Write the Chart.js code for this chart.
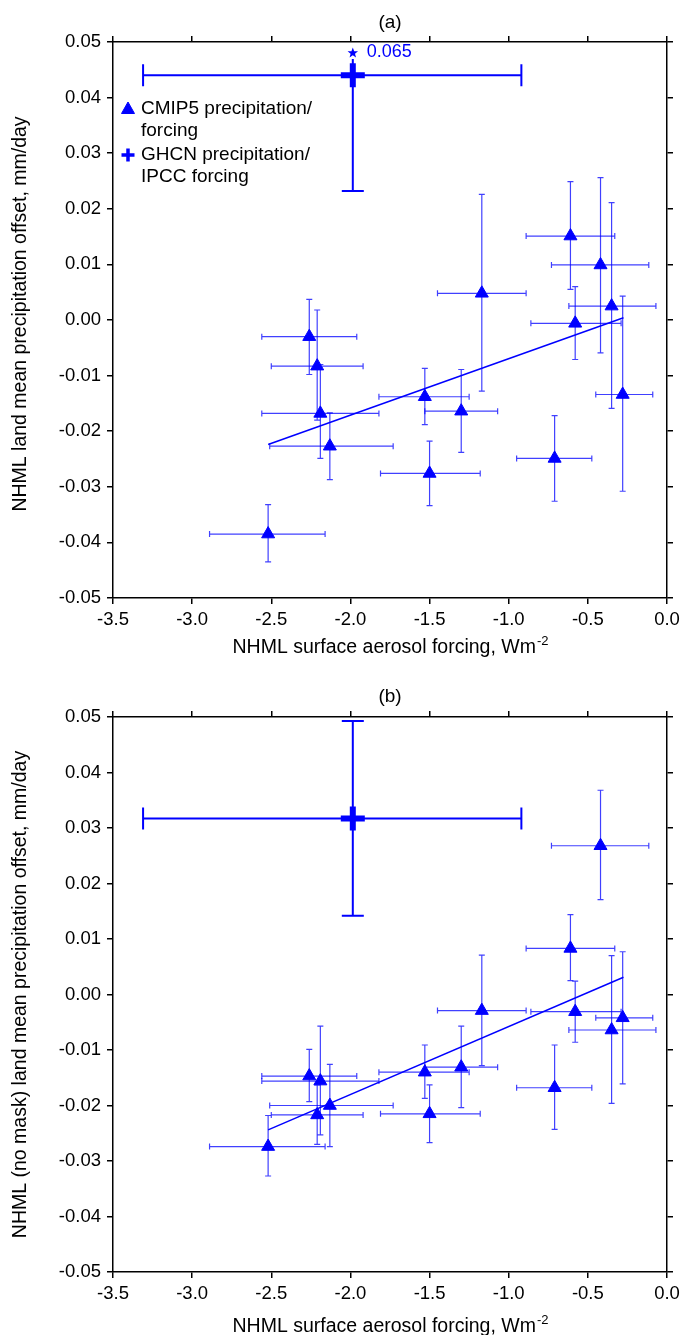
<!DOCTYPE html>
<html>
<head>
<meta charset="utf-8">
<script src="https://cdn.jsdelivr.net/npm/chart.js@4.4.1/dist/chart.umd.min.js"></script>
<style>
  html, body { margin: 0; padding: 0; background: #fff; }
  canvas { display: block; }
</style>
</head>
<body>
<canvas id="chartA" width="685" height="667"></canvas>
<canvas id="chartB" width="685" height="668"></canvas>
<script>
// CMIP5 models: NHML surface aerosol forcing (Wm-2) and its range
const forcing   = [-2.52, -2.26, -2.21, -2.19, -2.13, -1.53, -1.50, -1.30, -1.17, -0.71, -0.61, -0.58, -0.42, -0.35, -0.28];
const forcingLo = [-2.89, -2.56, -2.50, -2.56, -2.51, -1.82, -1.81, -1.53, -1.45, -0.95, -0.89, -0.86, -0.73, -0.62, -0.45];
const forcingHi = [-2.16, -1.96, -1.92, -1.82, -1.73, -1.25, -1.18, -1.07, -0.89, -0.475, -0.33, -0.29, -0.115, -0.07, -0.09];

// (a) NHML land mean precipitation offset, mm/day
const precipA   = [-0.0385, -0.0030, -0.0083, -0.0168, -0.0227, -0.0138, -0.0276, -0.0164, 0.0048, -0.0249, 0.0151, -0.0006, 0.0099, 0.0025, -0.0134];
const precipALo = [-0.0435, -0.0098, -0.0180, -0.0249, -0.0287, -0.0188, -0.0334, -0.0238, -0.0128, -0.0326, 0.0055, -0.0071, -0.0059, -0.0159, -0.0308];
const precipAHi = [-0.0332, 0.0037, 0.0018, -0.0080, -0.0167, -0.0087, -0.0218, -0.0089, 0.0226, -0.0172, 0.0249, 0.0060, 0.0256, 0.0211, 0.0043];

// (b) NHML (no mask) land mean precipitation offset, mm/day
const precipB   = [-0.0274, -0.0147, -0.0217, -0.0156, -0.0200, -0.0140, -0.0215, -0.0131, -0.0029, -0.0168, 0.0083, -0.0031, 0.0268, -0.0064, -0.0042];
const precipBLo = [-0.0327, -0.0193, -0.0270, -0.0253, -0.0274, -0.0187, -0.0267, -0.0204, -0.0128, -0.0243, 0.0025, -0.0086, 0.0171, -0.0196, -0.0161];
const precipBHi = [-0.0218, -0.0099, -0.0163, -0.0057, -0.0126, -0.0091, -0.0163, -0.0057, 0.0071, -0.0091, 0.0144, 0.0024, 0.0368, 0.0070, 0.0077];

// GHCN precipitation / IPCC forcing
const ghcnForcing = -1.985;
const ghcnForcingRange = [-3.31, -0.92];
const ghcnPrecipA = 0.044;
const ghcnPrecipARange = [0.0232, 0.065];
const ghcnPrecipB = 0.0317;
const ghcnPrecipBRange = [0.0142, 0.0493];

// regression lines, end points
const fitX = [-2.52, -0.275];
const fitA = [-0.0224, 0.0004];
const fitB = [-0.0244, 0.0031];

const legendLabels = [['CMIP5 precipitation/', 'forcing'], ['GHCN precipitation/', 'IPCC forcing']];

const blue = '#0000ff';
const fontFamily = '"Liberation Sans", Arial, Helvetica, sans-serif';
Chart.defaults.font.family = fontFamily;
Chart.defaults.color = '#000';

function fmt(v, d) {
    return (Math.abs(v) < 1e-9 ? 0 : v).toFixed(d);
}

function drawStar(ctx, x, y, r) {
    ctx.beginPath();
    for (let i = 0; i < 10; i++) {
        const rr = i % 2 === 0 ? r : r * 0.42;
        const a = -Math.PI / 2 + i * Math.PI / 5;
        ctx.lineTo(x + Math.cos(a) * rr, y + Math.sin(a) * rr);
    }
    ctx.closePath();
    ctx.fill();
}

// error bars drawn from each dataset's lo/hi arrays
const errorBars = {
    id: 'errorBars',
    beforeDatasetsDraw(chart) {
        const ctx = chart.ctx;
        const xs = chart.scales.x, ys = chart.scales.y;
        const area = chart.chartArea;
        chart.data.datasets.forEach(ds => {
            if (!ds.xLo) return;
            ctx.save();
            ctx.strokeStyle = ds.barColor;
            ctx.fillStyle = blue;
            ctx.lineWidth = ds.barWidth;
            ds.data.forEach((p, i) => {
                const px = xs.getPixelForValue(p.x);
                const py = ys.getPixelForValue(p.y);
                const x0 = xs.getPixelForValue(ds.xLo[i]);
                const x1 = xs.getPixelForValue(ds.xHi[i]);
                let y0 = ys.getPixelForValue(ds.yLo[i]);
                let y1 = ys.getPixelForValue(ds.yHi[i]);
                const over = ds.yHi[i] > ys.max;
                if (over) y1 = area.top + 17;
                ctx.beginPath();
                ctx.moveTo(x0, py); ctx.lineTo(x1, py);
                ctx.moveTo(px, y0); ctx.lineTo(px, y1);
                // caps
                ctx.moveTo(x0, py - ds.cap); ctx.lineTo(x0, py + ds.cap);
                ctx.moveTo(x1, py - ds.cap); ctx.lineTo(x1, py + ds.cap);
                ctx.moveTo(px - ds.cap, y0); ctx.lineTo(px + ds.cap, y0);
                if (!over) { ctx.moveTo(px - ds.cap, y1); ctx.lineTo(px + ds.cap, y1); }
                ctx.stroke();
                if (over) {
                    drawStar(ctx, px, area.top + 11, 5.5);
                    ctx.font = '18px ' + fontFamily;
                    ctx.textAlign = 'left';
                    ctx.textBaseline = 'alphabetic';
                    ctx.fillText(fmt(ds.yHi[i], 3), px + 14, area.top + 15);
                }
            });
            ctx.restore();
        });
    }
};

// panel label, axis titles and legend
const panelText = {
    id: 'panelText',
    afterDraw(chart, args, opts) {
        const ctx = chart.ctx;
        const area = chart.chartArea;
        const cx = (area.left + area.right) / 2;
        ctx.save();
        ctx.fillStyle = '#000';
        ctx.font = '19px ' + fontFamily;
        ctx.textAlign = 'center';
        ctx.textBaseline = 'middle';
        ctx.fillText(opts.label, cx, opts.labelY);

        // x title with superscript
        const main = 'NHML surface aerosol forcing, Wm';
        const sup = '-2';
        ctx.font = '19.5px ' + fontFamily;
        const w1 = ctx.measureText(main).width;
        ctx.font = '13px ' + fontFamily;
        const w2 = ctx.measureText(sup).width;
        const sx = cx - (w1 + w2) / 2;
        ctx.textAlign = 'left';
        ctx.textBaseline = 'alphabetic';
        ctx.font = '19.5px ' + fontFamily;
        ctx.fillText(main, sx, opts.xTitleY);
        ctx.font = '13px ' + fontFamily;
        ctx.fillText(sup, sx + w1 + 1, opts.xTitleY - 8);

        // y title
        ctx.font = '19.5px ' + fontFamily;
        ctx.translate(21, (area.top + area.bottom) / 2 + opts.yTitleShift);
        ctx.rotate(-Math.PI / 2);
        ctx.textAlign = 'center';
        ctx.textBaseline = 'middle';
        ctx.fillText(opts.yTitle, 0, 0);
        ctx.restore();

        if (opts.legend) {
            ctx.save();
            const lx = area.left + 15;
            const tx = area.left + 28;
            ctx.fillStyle = blue;
            ctx.strokeStyle = blue;
            ctx.lineWidth = 1;
            ctx.beginPath();
            ctx.moveTo(lx, area.top + 60); ctx.lineTo(lx + 6.5, area.top + 71.5); ctx.lineTo(lx - 6.5, area.top + 71.5);
            ctx.closePath(); ctx.fill(); ctx.stroke();
            ctx.lineWidth = 3.5;
            ctx.beginPath();
            ctx.moveTo(lx - 6.5, area.top + 113); ctx.lineTo(lx + 6.5, area.top + 113);
            ctx.moveTo(lx, area.top + 106.5); ctx.lineTo(lx, area.top + 119.5);
            ctx.stroke();
            ctx.fillStyle = '#000';
            ctx.font = '19px ' + fontFamily;
            ctx.textAlign = 'left';
            ctx.textBaseline = 'middle';
            ctx.fillText(legendLabels[0][0], tx, area.top + 67);
            ctx.fillText(legendLabels[0][1], tx, area.top + 89);
            ctx.fillText(legendLabels[1][0], tx, area.top + 113);
            ctx.fillText(legendLabels[1][1], tx, area.top + 135);
            ctx.restore();
        }
    }
};

function makeChart(id, precip, lo, hi, ghcnY, ghcnRange, fit, o) {
    const frameAxis = (pos, min, max, step, size, labels, dec, pad) => ({
        type: 'linear',
        position: pos,
        min: min,
        max: max,
        ticks: {
            stepSize: step,
            display: labels,
            padding: pad,
            font: { size: 18.5 },
            color: '#000',
            callback: v => fmt(v, dec)
        },
        grid: { drawOnChartArea: false, color: '#000', lineWidth: 1.5, tickLength: 6 },
        border: { color: '#000', width: 1.5 },
        afterFit: s => {
            if (pos === 'top' || pos === 'bottom') s.height = size; else s.width = size;
        }
    });

    return new Chart(document.getElementById(id), {
        type: 'scatter',
        data: {
            datasets: [{
                type: 'line',
                data: fitX.map((x, i) => ({ x: x, y: fit[i] })),
                borderColor: blue,
                borderWidth: 1.5,
                pointRadius: 0,
                fill: false
            }, {
                label: 'CMIP5 precipitation/forcing',
                data: forcing.map((x, i) => ({ x: x, y: precip[i] })),
                pointStyle: 'triangle',
                pointRadius: 7.5,
                backgroundColor: blue,
                borderColor: blue,
                borderWidth: 1,
                xLo: forcingLo, xHi: forcingHi, yLo: lo, yHi: hi,
                barColor: 'rgba(0,0,255,0.75)', barWidth: 1.2, cap: 3
            }, {
                label: 'GHCN precipitation/IPCC forcing',
                data: [{ x: ghcnForcing, y: ghcnY }],
                pointStyle: 'cross',
                pointRadius: 12,
                borderColor: blue,
                borderWidth: 6,
                xLo: [ghcnForcingRange[0]], xHi: [ghcnForcingRange[1]],
                yLo: [ghcnRange[0]], yHi: [ghcnRange[1]],
                barColor: blue, barWidth: 2, cap: 11
            }]
        },
        options: {
            responsive: false,
            animation: false,
            devicePixelRatio: 1,
            layout: { padding: 0 },
            scales: {
                x: frameAxis('bottom', -3.5, 0, 0.5, o.bottomH, true, 1, 5),
                x2: frameAxis('top', -3.5, 0, 0.5, o.topH, false, 1, 0),
                y: frameAxis('left', -0.05, 0.05, 0.01, 113, true, 2, 6),
                y2: frameAxis('right', -0.05, 0.05, 0.01, 17, false, 2, 0)
            },
            plugins: {
                legend: { display: false },
                tooltip: { enabled: false },
                panelText: o
            }
        },
        plugins: [errorBars, panelText]
    });
}

makeChart('chartA', precipA, precipALo, precipAHi, ghcnPrecipA, ghcnPrecipARange, fitA, {
    label: '(a)', labelY: 23, xTitleY: 653, bottomH: 69, topH: 42, legend: true, yTitleShift: -6,
    yTitle: 'NHML land mean precipitation offset, mm/day'
});
makeChart('chartB', precipB, precipBLo, precipBHi, ghcnPrecipB, ghcnPrecipBRange, fitB, {
    label: '(b)', labelY: 30, xTitleY: 665, bottomH: 63, topH: 50, legend: false, yTitleShift: 0,
    yTitle: 'NHML (no mask) land mean precipitation offset, mm/day'
});
</script>
</body>
</html>
